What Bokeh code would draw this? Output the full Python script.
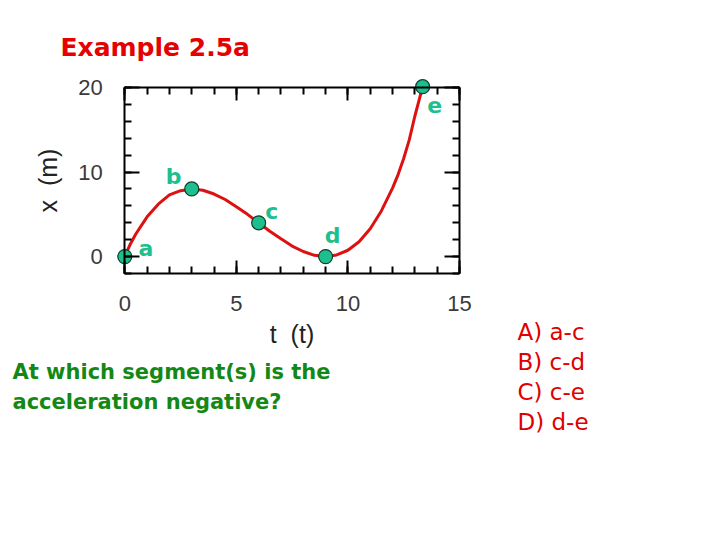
from bokeh.plotting import figure
from bokeh.models import Range1d, LinearAxis, SingleIntervalTicker, Label
from bokeh.embed import file_html
from bokeh.resources import INLINE
from bokeh.core.properties import value

# ---- data ----
t_curve = [0, 0.25, 0.5, 1, 1.5, 2, 2.5, 3, 3.5, 4, 4.5, 5, 5.5, 6, 6.5, 7, 7.5,
           8, 8.5, 9, 9.5, 10, 10.5, 11, 11.5, 12, 12.25, 12.5, 12.75, 13,
           13.2, 13.35]
x_curve = [0, 1.5, 2.7, 4.7, 6.2, 7.3, 7.8, 8.0, 7.85, 7.4, 6.75, 5.9, 5.0, 4.0,
           3.0, 2.1, 1.25, 0.6, 0.15, 0, 0.2, 0.75, 1.75, 3.3, 5.4, 8.1,
           9.7, 11.6, 13.8, 16.6, 18.6, 20.1]
pt_t = [0, 3, 6, 9, 13.35]
pt_x = [0, 8, 4, 0, 20.1]
pt_names = ["a", "b", "c", "d", "e"]
title_text = "Example 2.5a"
question_lines = ["At which segment(s) is the", "acceleration negative?"]
answers = ["A) a-c", "B) c-d", "C) c-e", "D) d-e"]
x_label = "t \u00a0(t)"
y_label = "x \u00a0(m)"

# ---- layout helpers (canvas pixel -> data) ----
W, H = 704, 524
X0, SX = 124.3, 22.31
Y0, SY = 256.1, 8.455
def X(px):
    return (px - X0) / SX
def Y(py):
    return (Y0 - py) / SY

p = figure(width=W, height=H, output_backend="svg", toolbar_location=None,
           x_range=Range1d(X(0), X(W)), y_range=Range1d(Y(H), Y(0)),
           x_axis_location=None, y_axis_location=None,
           min_border=0, min_border_left=0, min_border_right=0,
           min_border_top=0, min_border_bottom=0)
p.outline_line_color = None
p.background_fill_color = "white"
p.border_fill_color = "white"
for g in p.grid:
    g.visible = False

def style_axis(ax, major_in, labels=True):
    ax.axis_line_width = 2
    ax.axis_line_color = "black"
    ax.major_tick_in = major_in
    ax.major_tick_out = 0
    ax.minor_tick_in = 7
    ax.minor_tick_out = 0
    ax.major_tick_line_width = 2
    ax.minor_tick_line_width = 2
    ax.major_tick_line_color = "black"
    ax.minor_tick_line_color = "black"
    if labels:
        ax.major_label_text_font = "Liberation Sans"
        ax.major_label_text_font_size = "22px"
        ax.major_label_text_color = "#3a3a3a"
        ax.axis_label_text_font = "Liberation Sans"
        ax.axis_label_text_font_size = "25px"
        ax.axis_label_text_font_style = "normal"
        ax.axis_label_text_color = "#222222"
    else:
        ax.major_label_text_color = None

bottom = LinearAxis(ticker=SingleIntervalTicker(interval=5, num_minor_ticks=5),
                    fixed_location=-2, bounds=(0, 15), axis_label=x_label)
style_axis(bottom, 13)
bottom.major_label_standoff = 22
bottom.axis_label_standoff = 6
p.add_layout(bottom, "below")

top = LinearAxis(ticker=SingleIntervalTicker(interval=5, num_minor_ticks=5),
                 fixed_location=20, bounds=(0, 15))
style_axis(top, 13, labels=False)
p.add_layout(top, "above")

left = LinearAxis(ticker=SingleIntervalTicker(interval=10, num_minor_ticks=5),
                  fixed_location=0, bounds=(-2, 20), axis_label=y_label)
style_axis(left, 15)
left.major_label_standoff = 22
left.axis_label_standoff = 13
p.add_layout(left, "left")

right = LinearAxis(ticker=SingleIntervalTicker(interval=10, num_minor_ticks=5),
                   fixed_location=15, bounds=(-2, 20))
style_axis(right, 15, labels=False)
p.add_layout(right, "right")

p.line(t_curve, x_curve, line_color="#dd1111", line_width=3, line_join="round")
p.scatter(pt_t, pt_x, size=14, fill_color="#1dbf8e", line_color="#0f3d2c",
          line_width=1.2)
p.text(x=pt_t, y=pt_x, text=pt_names,
       x_offset=[21, -18, 13, 7, 12], y_offset=[-8, -12, -11, -21, 18],
       text_font=value("DejaVu Sans"), text_font_style="bold",
       text_font_size="22px", text_color="#1dbf8e",
       text_align="center", text_baseline="middle")

p.add_layout(Label(x=X(60), y=Y(47), text=title_text,
                   text_font="DejaVu Sans", text_font_style="bold",
                   text_font_size="25px", text_color="#e60000",
                   text_align="left", text_baseline="middle"))
for i, line in enumerate(question_lines):
    p.add_layout(Label(x=X(12), y=Y(371 + 30 * i), text=line,
                       text_font="DejaVu Sans", text_font_style="bold",
                       text_font_size="21px", text_color="#148814",
                       text_align="left", text_baseline="middle"))
for i, line in enumerate(answers):
    p.add_layout(Label(x=X(517), y=Y(331 + 30.3 * i), text=line,
                       text_font="DejaVu Sans", text_font_size="23px",
                       text_color="#e00000",
                       text_align="left", text_baseline="middle"))

open("out.html", "w").write(file_html(p, INLINE))
